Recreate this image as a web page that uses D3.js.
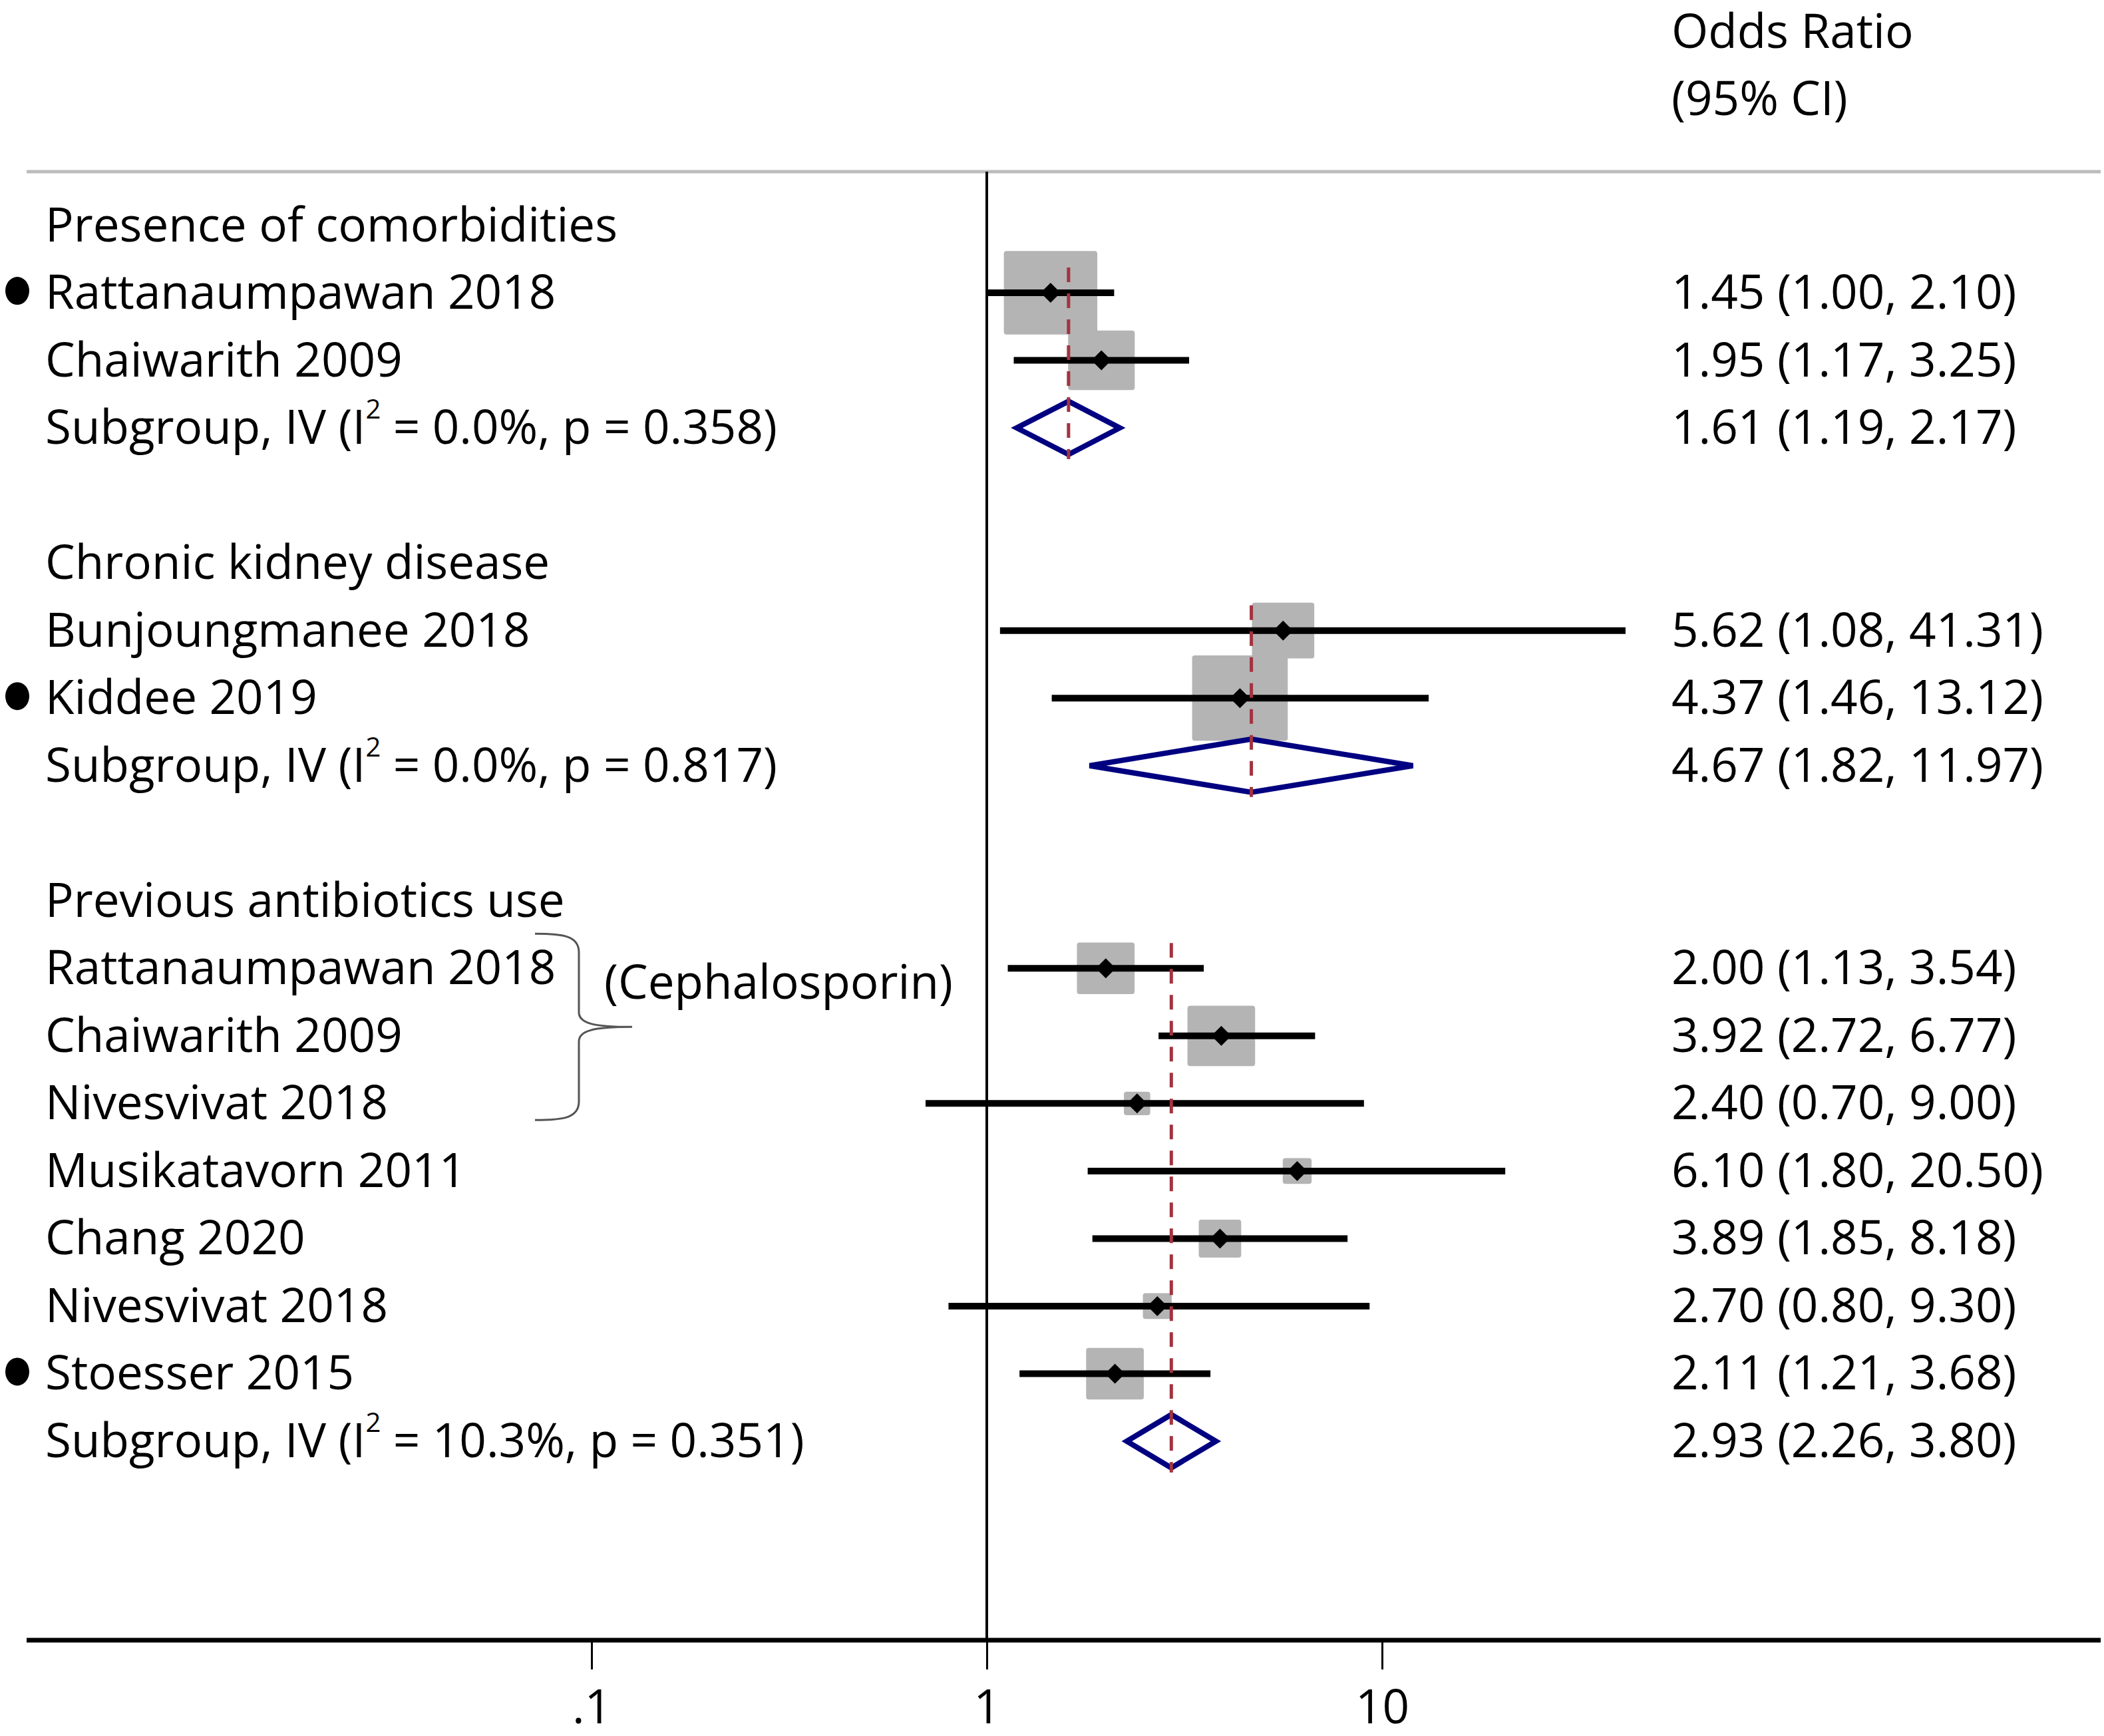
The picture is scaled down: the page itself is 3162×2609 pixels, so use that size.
<!DOCTYPE html>
<html>
<head>
<meta charset="utf-8">
<script src="https://cdn.jsdelivr.net/npm/d3@7"></script>
<style>
  body { margin: 0; background: #fff; }
  svg { display: block; font-family: 'Open Sans', sans-serif; }
</style>
</head>
<body>
<svg id="chart"></svg>
<script>
// data
const groupNames = ['Presence of comorbidities', 'Chronic kidney disease', 'Previous antibiotics use'];
const studyNames = [
  'Rattanaumpawan 2018', 'Chaiwarith 2009',
  'Bunjoungmanee 2018', 'Kiddee 2019',
  'Rattanaumpawan 2018', 'Chaiwarith 2009', 'Nivesvivat 2018', 'Musikatavorn 2011',
  'Chang 2020', 'Nivesvivat 2018', 'Stoesser 2015'
];
const studyGroup = [0, 0, 1, 1, 2, 2, 2, 2, 2, 2, 2];
const studyOR = [1.45, 1.95, 5.62, 4.37, 2.0, 3.92, 2.4, 6.1, 3.89, 2.7, 2.11];
const studyLow = [1.0, 1.17, 1.08, 1.46, 1.13, 2.72, 0.7, 1.8, 1.85, 0.8, 1.21];
const studyHigh = [2.1, 3.25, 41.31, 13.12, 3.54, 6.77, 9.0, 20.5, 8.18, 9.3, 3.68];
// weights (%) estimated from the size of the grey boxes
const studyWeight = [63, 32, 28, 66, 24, 33, 5, 6, 13, 6, 24];
const studyMarked = [true, false, false, true, false, false, false, false, false, false, true];
const subgroupI2 = ['0.0%', '0.0%', '10.3%'];
const subgroupP = ['0.358', '0.817', '0.351'];
const subgroupOR = [1.61, 4.67, 2.93];
const subgroupLow = [1.19, 1.82, 2.26];
const subgroupHigh = [2.17, 11.97, 3.8];
const headerLines = ['Odds Ratio', '(95% CI)'];
const xTicks = [0.1, 1, 10];
const xTickLabels = ['.1', '1', '10'];
const bracketStudies = [4, 5, 6];
const bracketLabel = '(Cephalosporin)';

const width = 3162;
const height = 2609;
const fontSize = 71;
const baseShift = 24;
const labelX = 68;
const valueX = 2512;
const plotLeft = 40;
const plotRight = 3157;
const topLineY = 258;
const axisY = 2465;

const fmt = d3.format('.2f');

// build the rows: group title, studies, subgroup, empty line
const rows = [];
groupNames.forEach((name, gi) => {
  rows.push({ type: 'title', label: name });
  studyNames.forEach((s, si) => {
    if (studyGroup[si] !== gi) return;
    rows.push({
      type: 'study',
      index: si,
      label: s,
      or: studyOR[si],
      lo: studyLow[si],
      hi: studyHigh[si],
      w: studyWeight[si],
      marked: studyMarked[si]
    });
  });
  rows.push({
    type: 'subgroup',
    group: gi,
    i2: subgroupI2[gi],
    p: subgroupP[gi],
    or: subgroupOR[gi],
    lo: subgroupLow[gi],
    hi: subgroupHigh[gi]
  });
  rows.push({ type: 'blank' });
});
rows.forEach((r, i) => (r.row = i));

const studies = rows.filter((r) => r.type === 'study');
const subgroups = rows.filter((r) => r.type === 'subgroup');

const x = d3.scaleLog().domain([0.1, 10]).range([889, 2077]);
const y = d3.scaleLinear().domain([0, 18]).range([338.5, 2166]);
const boxSize = d3.scaleSqrt().domain([0, 100]).range([0, 158]);

const svg = d3
  .select('#chart')
  .attr('width', width)
  .attr('height', height)
  .attr('viewBox', [0, 0, width, height]);

svg.append('rect').attr('width', width).attr('height', height).attr('fill', '#fff');

//top grey rule
svg
  .append('line')
  .attr('x1', plotLeft)
  .attr('x2', plotRight)
  .attr('y1', topLineY)
  .attr('y2', topLineY)
  .attr('stroke', '#bcbcbc')
  .attr('stroke-width', 5);

//header
svg
  .append('g')
  .selectAll('text')
  .data(headerLines)
  .join('text')
  .attr('x', valueX)
  .attr('y', (d, i) => y(i - 3) + baseShift + 14)
  .attr('font-size', fontSize)
  .text((d) => d);

//axis
const xAxis = (g) =>
  g
    .attr('transform', `translate(0,${axisY})`)
    .call(
      d3
        .axisBottom(x)
        .tickValues(xTicks)
        .tickSize(44)
        .tickPadding(31)
        .tickFormat((d, i) => xTickLabels[i])
    )
    .call((g) => g.select('.domain').remove())
    .call((g) => g.selectAll('.tick line').attr('stroke', '#000').attr('stroke-width', 3))
    .call((g) =>
      g
        .selectAll('.tick text')
        .attr('font-size', fontSize)
        .attr('font-family', "'Open Sans', sans-serif")
        .attr('fill', '#000')
    )
    .call((g) =>
      g
        .append('line')
        .attr('x1', plotLeft)
        .attr('x2', plotRight)
        .attr('stroke', '#000')
        .attr('stroke-width', 7)
    );

svg.append('g').call(xAxis);

//null line at OR = 1
svg
  .append('line')
  .attr('x1', x(1))
  .attr('x2', x(1))
  .attr('y1', topLineY)
  .attr('y2', axisY)
  .attr('stroke', '#000')
  .attr('stroke-width', 4);

//weight boxes
svg
  .append('g')
  .selectAll('rect')
  .data(studies)
  .join('rect')
  .attr('x', (d) => x(d.or) - (boxSize(d.w) * 1.12) / 2)
  .attr('y', (d) => y(d.row) - boxSize(d.w) / 2)
  .attr('width', (d) => boxSize(d.w) * 1.12)
  .attr('height', (d) => boxSize(d.w))
  .attr('rx', 4)
  .attr('fill', '#b4b4b4');

//confidence intervals
svg
  .append('g')
  .attr('stroke', '#000')
  .attr('stroke-width', 10)
  .selectAll('line')
  .data(studies)
  .join('line')
  .attr('x1', (d) => x(d.lo))
  .attr('x2', (d) => x(d.hi))
  .attr('y1', (d) => y(d.row))
  .attr('y2', (d) => y(d.row));

//pooled diamonds
svg
  .append('g')
  .selectAll('path')
  .data(subgroups)
  .join('path')
  .attr('d', (d) => {
    const yc = y(d.row);
    return `M${x(d.lo)},${yc}L${x(d.or)},${yc - 40}L${x(d.hi)},${yc}L${x(d.or)},${yc + 40}Z`;
  })
  .attr('fill', 'none')
  .attr('stroke', '#000080')
  .attr('stroke-width', 8)
  .attr('stroke-linejoin', 'miter');

//dashed pooled estimate lines
svg
  .append('g')
  .selectAll('line')
  .data(subgroups)
  .join('line')
  .attr('x1', (d) => x(d.or))
  .attr('x2', (d) => x(d.or))
  .attr('y1', (d) => {
    const first = studies.find((s) => studyGroup[s.index] === d.group);
    return y(first.row) - 38;
  })
  .attr('y2', (d) => y(d.row) + 47)
  .attr('stroke', '#a3333f')
  .attr('stroke-width', 5)
  .attr('stroke-dasharray', '22 17');

//point estimates
svg
  .append('g')
  .selectAll('path')
  .data(studies)
  .join('path')
  .attr('transform', (d) => `translate(${x(d.or)},${y(d.row)}) rotate(45)`)
  .attr('d', d3.symbol(d3.symbolSquare, 450))
  .attr('fill', '#000');

//left labels
const labels = svg.append('g').attr('font-size', fontSize).attr('fill', '#000');

labels
  .selectAll('text.plain')
  .data(rows.filter((r) => r.type === 'title' || r.type === 'study'))
  .join('text')
  .attr('class', 'plain')
  .attr('x', labelX)
  .attr('y', (d) => y(d.row) + baseShift)
  .text((d) => d.label);

labels
  .selectAll('text.sub')
  .data(subgroups)
  .join('text')
  .attr('class', 'sub')
  .attr('x', labelX)
  .attr('y', (d) => y(d.row) + baseShift)
  .each(function (d) {
    const t = d3.select(this);
    t.append('tspan').text('Subgroup, IV (I');
    t.append('tspan').attr('font-size', 40).attr('dy', -38).text('2');
    t.append('tspan').attr('dy', 38).text(` = ${d.i2}, p = ${d.p})`);
  });

//bullets in front of some studies
svg
  .append('g')
  .selectAll('ellipse')
  .data(studies.filter((d) => d.marked))
  .join('ellipse')
  .attr('cx', 26)
  .attr('cy', (d) => y(d.row) - 3)
  .attr('rx', 18)
  .attr('ry', 21)
  .attr('fill', '#000');

//right column values
svg
  .append('g')
  .attr('font-size', fontSize)
  .selectAll('text')
  .data(rows.filter((r) => r.type === 'study' || r.type === 'subgroup'))
  .join('text')
  .attr('x', valueX)
  .attr('y', (d) => y(d.row) + baseShift)
  .text((d) => `${fmt(d.or)} (${fmt(d.lo)}, ${fmt(d.hi)})`);

//curly bracket annotation
const bRows = studies.filter((s) => bracketStudies.includes(s.index)).map((s) => s.row);
const bTop = y(d3.min(bRows)) - 52;
const bBottom = y(d3.max(bRows)) + 25;
const bMid = (bTop + bBottom) / 2;
const bx0 = 804;
const bx1 = 870;
const bTip = 950;

svg
  .append('path')
  .attr(
    'd',
    `M${bx0},${bTop}C${bx0 + 45},${bTop} ${bx1},${bTop + 4} ${bx1},${bTop + 28}` +
      `L${bx1},${bMid - 22}C${bx1},${bMid - 6} ${bx1 + 20},${bMid} ${bTip},${bMid}` +
      `C${bx1 + 20},${bMid} ${bx1},${bMid + 6} ${bx1},${bMid + 22}` +
      `L${bx1},${bBottom - 28}C${bx1},${bBottom - 4} ${bx0 + 45},${bBottom} ${bx0},${bBottom}`
  )
  .attr('fill', 'none')
  .attr('stroke', '#555')
  .attr('stroke-width', 3);

svg
  .append('text')
  .attr('x', 908)
  .attr('y', y(d3.min(bRows)) + 22 + baseShift)
  .attr('font-size', fontSize)
  .text(bracketLabel);
</script>
</body>
</html>
